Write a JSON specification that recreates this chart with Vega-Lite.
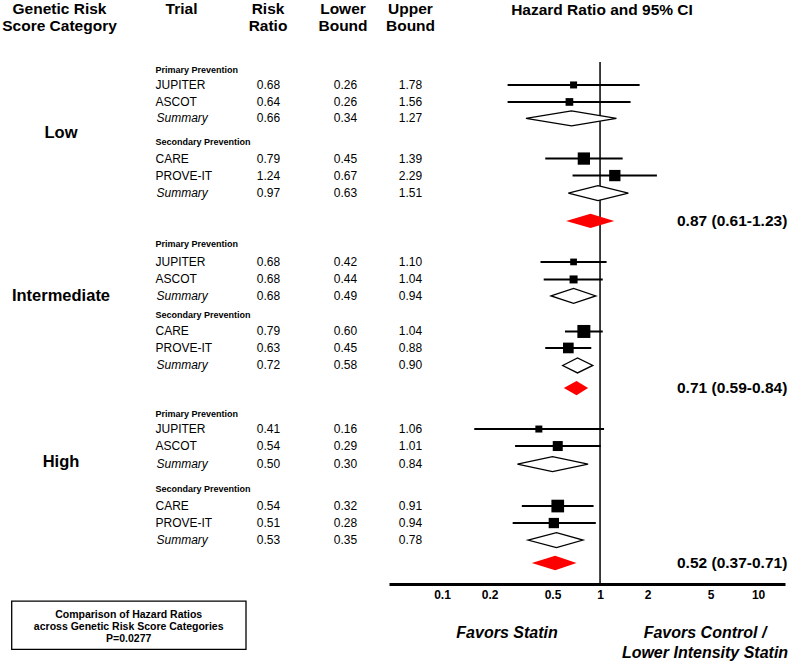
{
  "$schema": "https://vega.github.io/schema/vega-lite/v6.json",
  "width": 800,
  "height": 661,
  "padding": 0,
  "autosize": "none",
  "config": {"view": {"stroke": null}, "font": "Liberation Sans"},
  "datasets": {
    "studies": [
      {"cat": "Low", "row": 0, "kind": "group", "label": "Primary Prevention"},
      {"cat": "Low", "row": 0.88, "kind": "trial", "label": "JUPITER", "rr": 0.68, "lb": 0.26, "ub": 1.78, "weight": 49},
      {"cat": "Low", "row": 1.88, "kind": "trial", "label": "ASCOT", "rr": 0.64, "lb": 0.26, "ub": 1.56, "weight": 59},
      {"cat": "Low", "row": 2.85, "kind": "summary", "label": "Summary", "rr": 0.66, "lb": 0.34, "ub": 1.27},
      {"cat": "Low", "row": 4.21, "kind": "group", "label": "Secondary Prevention"},
      {"cat": "Low", "row": 5.21, "kind": "trial", "label": "CARE", "rr": 0.79, "lb": 0.45, "ub": 1.39, "weight": 151},
      {"cat": "Low", "row": 6.21, "kind": "trial", "label": "PROVE-IT", "rr": 1.24, "lb": 0.67, "ub": 2.29, "weight": 128},
      {"cat": "Low", "row": 7.24, "kind": "summary", "label": "Summary", "rr": 0.97, "lb": 0.63, "ub": 1.51},
      {"cat": "Intermediate", "row": 10.24, "kind": "group", "label": "Primary Prevention"},
      {"cat": "Intermediate", "row": 11.29, "kind": "trial", "label": "JUPITER", "rr": 0.68, "lb": 0.42, "ub": 1.10, "weight": 45},
      {"cat": "Intermediate", "row": 12.32, "kind": "trial", "label": "ASCOT", "rr": 0.68, "lb": 0.44, "ub": 1.04, "weight": 64},
      {"cat": "Intermediate", "row": 13.29, "kind": "summary", "label": "Summary", "rr": 0.68, "lb": 0.49, "ub": 0.94},
      {"cat": "Intermediate", "row": 14.41, "kind": "group", "label": "Secondary Prevention"},
      {"cat": "Intermediate", "row": 15.38, "kind": "trial", "label": "CARE", "rr": 0.79, "lb": 0.60, "ub": 1.04, "weight": 169},
      {"cat": "Intermediate", "row": 16.35, "kind": "trial", "label": "PROVE-IT", "rr": 0.63, "lb": 0.45, "ub": 0.88, "weight": 114},
      {"cat": "Intermediate", "row": 17.38, "kind": "summary", "label": "Summary", "rr": 0.72, "lb": 0.58, "ub": 0.90},
      {"cat": "High", "row": 20.24, "kind": "group", "label": "Primary Prevention"},
      {"cat": "High", "row": 21.12, "kind": "trial", "label": "JUPITER", "rr": 0.41, "lb": 0.16, "ub": 1.06, "weight": 49},
      {"cat": "High", "row": 22.12, "kind": "trial", "label": "ASCOT", "rr": 0.54, "lb": 0.29, "ub": 1.01, "weight": 100},
      {"cat": "High", "row": 23.18, "kind": "summary", "label": "Summary", "rr": 0.50, "lb": 0.30, "ub": 0.84},
      {"cat": "High", "row": 24.65, "kind": "group", "label": "Secondary Prevention"},
      {"cat": "High", "row": 25.65, "kind": "trial", "label": "CARE", "rr": 0.54, "lb": 0.32, "ub": 0.91, "weight": 161},
      {"cat": "High", "row": 26.65, "kind": "trial", "label": "PROVE-IT", "rr": 0.51, "lb": 0.28, "ub": 0.94, "weight": 106},
      {"cat": "High", "row": 27.65, "kind": "summary", "label": "Summary", "rr": 0.53, "lb": 0.35, "ub": 0.78}
    ],
    "overall": [
      {"cat": "Low", "row": 8.88, "hr": 0.87, "lb": 0.61, "ub": 1.23, "label": "0.87 (0.61-1.23)"},
      {"cat": "Intermediate", "row": 18.71, "hr": 0.71, "lb": 0.59, "ub": 0.84, "label": "0.71 (0.59-0.84)"},
      {"cat": "High", "row": 29.0, "hr": 0.52, "lb": 0.37, "ub": 0.71, "label": "0.52 (0.37-0.71)"}
    ],
    "categories": [
      {"cat": "Low", "row": 3.71},
      {"cat": "Intermediate", "row": 13.29},
      {"cat": "High", "row": 23.06}
    ]
  },
  "layer": [
    {
      "layer": [
        {
          "data": {"values": [{}]},
          "mark": {"type": "rule", "color": "black", "strokeWidth": 1.5},
          "encoding": {
            "x": {"datum": 1, "type": "quantitative", "scale": {"type": "log", "domain": [0.0462, 14.8], "range": [389, 785], "nice": false},
                  "axis": {"orient": "bottom", "offset": -77, "values": [0.1, 0.2, 0.5, 1, 2, 5, 10], "format": "~g", "title": null, "grid": false, "ticks": false, "tickSize": 0, "domainColor": "black", "domainWidth": 3, "labelFontSize": 12, "labelFontWeight": "bold", "labelColor": "black", "labelPadding": 5, "labelOverlap": false, "labelFlush": false, "labelBound": false}},
            "y": {"datum": -0.47, "type": "quantitative", "scale": {"domain": [-4.1176, 34.765], "range": [0, 661], "nice": false, "zero": false}, "axis": null},
            "y2": {"datum": 30.24}
          }
        },
        {
          "data": {"name": "studies"},
          "transform": [{"filter": "datum.kind == 'trial'"}],
          "mark": {"type": "rule", "color": "black", "strokeWidth": 2},
          "encoding": {
            "x": {"field": "lb", "type": "quantitative", "scale": {"type": "log", "domain": [0.0462, 14.8], "range": [389, 785], "nice": false}},
            "x2": {"field": "ub"},
            "y": {"field": "row", "type": "quantitative", "scale": {"domain": [-4.1176, 34.765], "range": [0, 661], "nice": false, "zero": false}, "axis": null}
          }
        },
        {
          "data": {"name": "studies"},
          "transform": [{"filter": "datum.kind == 'trial'"}],
          "mark": {"type": "point", "shape": "square", "filled": true, "color": "black", "opacity": 1},
          "encoding": {
            "x": {"field": "rr", "type": "quantitative", "scale": {"type": "log", "domain": [0.0462, 14.8], "range": [389, 785], "nice": false}},
            "y": {"field": "row", "type": "quantitative", "scale": {"domain": [-4.1176, 34.765], "range": [0, 661], "nice": false, "zero": false}, "axis": null},
            "size": {"field": "weight", "type": "quantitative", "scale": {"type": "linear", "domain": [0, 200], "range": [0, 200], "zero": true}, "legend": null}
          }
        },
        {
          "data": {"name": "studies"},
          "transform": [
            {"filter": "datum.kind == 'summary'"},
            {"fold": ["lb", "rr", "ub"], "as": ["pt", "val"]},
            {"calculate": "datum.pt == 'rr' ? datum.row - 0.44 : datum.row", "as": "top"},
            {"calculate": "datum.pt == 'rr' ? datum.row + 0.44 : datum.row", "as": "bottom"}
          ],
          "mark": {"type": "area", "orient": "vertical", "fill": "white", "stroke": "black", "strokeWidth": 1.3, "opacity": 1, "fillOpacity": 1},
          "encoding": {
            "x": {"field": "val", "type": "quantitative", "scale": {"type": "log", "domain": [0.0462, 14.8], "range": [389, 785], "nice": false}},
            "y": {"field": "top", "type": "quantitative", "scale": {"domain": [-4.1176, 34.765], "range": [0, 661], "nice": false, "zero": false}, "axis": null},
            "y2": {"field": "bottom"},
            "detail": {"field": "row", "type": "nominal"}
          }
        },
        {
          "data": {"name": "overall"},
          "transform": [
            {"fold": ["lb", "hr", "ub"], "as": ["pt", "val"]},
            {"calculate": "datum.pt == 'hr' ? datum.row - 0.42 : datum.row", "as": "top"},
            {"calculate": "datum.pt == 'hr' ? datum.row + 0.42 : datum.row", "as": "bottom"}
          ],
          "mark": {"type": "area", "orient": "vertical", "fill": "#ff0000", "strokeWidth": 0, "opacity": 1, "fillOpacity": 1},
          "encoding": {
            "x": {"field": "val", "type": "quantitative", "scale": {"type": "log", "domain": [0.0462, 14.8], "range": [389, 785], "nice": false}},
            "y": {"field": "top", "type": "quantitative", "scale": {"domain": [-4.1176, 34.765], "range": [0, 661], "nice": false, "zero": false}, "axis": null},
            "y2": {"field": "bottom"},
            "detail": {"field": "row", "type": "nominal"}
          }
        }
      ]
    },
    {
      "layer": [
        {
          "data": {"name": "categories"},
          "mark": {"type": "text", "fontSize": 16.5, "fontWeight": "bold", "align": "center", "baseline": "middle", "color": "black"},
          "encoding": {
            "x": {"datum": 61, "type": "quantitative", "scale": {"type": "linear", "domain": [0, 800], "range": [0, 800], "nice": false, "zero": false}, "axis": null},
            "y": {"field": "row", "type": "quantitative", "scale": {"domain": [-4.1176, 34.765], "range": [0, 661], "nice": false, "zero": false}, "axis": null},
            "text": {"field": "cat"}
          }
        },
        {
          "data": {"name": "studies"},
          "transform": [{"filter": "datum.kind == 'group'"}],
          "mark": {"type": "text", "fontSize": 9, "fontWeight": "bold", "align": "left", "baseline": "middle", "color": "black"},
          "encoding": {
            "x": {"datum": 155.5, "type": "quantitative"},
            "y": {"field": "row", "type": "quantitative"},
            "text": {"field": "label"}
          }
        },
        {
          "data": {"name": "studies"},
          "transform": [{"filter": "datum.kind == 'trial'"}],
          "mark": {"type": "text", "fontSize": 12, "align": "left", "baseline": "middle", "color": "black"},
          "encoding": {
            "x": {"datum": 155.5, "type": "quantitative"},
            "y": {"field": "row", "type": "quantitative"},
            "text": {"field": "label"}
          }
        },
        {
          "data": {"name": "studies"},
          "transform": [{"filter": "datum.kind == 'summary'"}],
          "mark": {"type": "text", "fontSize": 12, "fontStyle": "italic", "align": "left", "baseline": "middle", "color": "black"},
          "encoding": {
            "x": {"datum": 156.5, "type": "quantitative"},
            "y": {"field": "row", "type": "quantitative"},
            "text": {"field": "label"}
          }
        },
        {
          "data": {"name": "studies"},
          "transform": [{"filter": "datum.kind != 'group'"}],
          "mark": {"type": "text", "fontSize": 12, "align": "center", "baseline": "middle", "color": "black"},
          "encoding": {
            "x": {"datum": 268.5, "type": "quantitative"},
            "y": {"field": "row", "type": "quantitative"},
            "text": {"field": "rr", "type": "quantitative", "format": ".2f"}
          }
        },
        {
          "data": {"name": "studies"},
          "transform": [{"filter": "datum.kind != 'group'"}],
          "mark": {"type": "text", "fontSize": 12, "align": "center", "baseline": "middle", "color": "black"},
          "encoding": {
            "x": {"datum": 345.5, "type": "quantitative"},
            "y": {"field": "row", "type": "quantitative"},
            "text": {"field": "lb", "type": "quantitative", "format": ".2f"}
          }
        },
        {
          "data": {"name": "studies"},
          "transform": [{"filter": "datum.kind != 'group'"}],
          "mark": {"type": "text", "fontSize": 12, "align": "center", "baseline": "middle", "color": "black"},
          "encoding": {
            "x": {"datum": 410.5, "type": "quantitative"},
            "y": {"field": "row", "type": "quantitative"},
            "text": {"field": "ub", "type": "quantitative", "format": ".2f"}
          }
        },
        {
          "data": {"name": "overall"},
          "mark": {"type": "text", "fontSize": 15.5, "fontWeight": "bold", "align": "left", "baseline": "middle", "color": "black"},
          "encoding": {
            "x": {"datum": 677, "type": "quantitative"},
            "y": {"field": "row", "type": "quantitative"},
            "text": {"field": "label"}
          }
        },
        {
          "data": {"values": [{}]},
          "mark": {"type": "text", "fontSize": 15.5, "fontWeight": "bold", "align": "center", "baseline": "middle", "lineHeight": 17, "color": "black"},
          "encoding": {
            "x": {"datum": 59.5, "type": "quantitative"},
            "y": {"datum": -3.59, "type": "quantitative"},
            "text": {"value": ["Genetic Risk", "Score Category"]}
          }
        },
        {
          "data": {"values": [{}]},
          "mark": {"type": "text", "fontSize": 15.5, "fontWeight": "bold", "align": "center", "baseline": "middle", "color": "black"},
          "encoding": {
            "x": {"datum": 181.5, "type": "quantitative"},
            "y": {"datum": -3.59, "type": "quantitative"},
            "text": {"value": "Trial"}
          }
        },
        {
          "data": {"values": [{}]},
          "mark": {"type": "text", "fontSize": 15.5, "fontWeight": "bold", "align": "center", "baseline": "middle", "lineHeight": 17, "color": "black"},
          "encoding": {
            "x": {"datum": 268, "type": "quantitative"},
            "y": {"datum": -3.59, "type": "quantitative"},
            "text": {"value": ["Risk", "Ratio"]}
          }
        },
        {
          "data": {"values": [{}]},
          "mark": {"type": "text", "fontSize": 15.5, "fontWeight": "bold", "align": "center", "baseline": "middle", "lineHeight": 17, "color": "black"},
          "encoding": {
            "x": {"datum": 343, "type": "quantitative"},
            "y": {"datum": -3.59, "type": "quantitative"},
            "text": {"value": ["Lower", "Bound"]}
          }
        },
        {
          "data": {"values": [{}]},
          "mark": {"type": "text", "fontSize": 15.5, "fontWeight": "bold", "align": "center", "baseline": "middle", "lineHeight": 17, "color": "black"},
          "encoding": {
            "x": {"datum": 410.5, "type": "quantitative"},
            "y": {"datum": -3.59, "type": "quantitative"},
            "text": {"value": ["Upper", "Bound"]}
          }
        },
        {
          "data": {"values": [{}]},
          "mark": {"type": "text", "fontSize": 15.5, "fontWeight": "bold", "align": "center", "baseline": "middle", "color": "black"},
          "encoding": {
            "x": {"datum": 602, "type": "quantitative"},
            "y": {"datum": -3.5, "type": "quantitative"},
            "text": {"value": "Hazard Ratio and 95% CI"}
          }
        },
        {
          "data": {"values": [{}]},
          "mark": {"type": "text", "fontSize": 16, "fontWeight": "bold", "fontStyle": "italic", "align": "center", "baseline": "middle", "color": "black"},
          "encoding": {
            "x": {"datum": 507, "type": "quantitative"},
            "y": {"datum": 33.09, "type": "quantitative"},
            "text": {"value": "Favors Statin"}
          }
        },
        {
          "data": {"values": [{}]},
          "mark": {"type": "text", "fontSize": 16, "fontWeight": "bold", "fontStyle": "italic", "align": "center", "baseline": "middle", "lineHeight": 20, "color": "black"},
          "encoding": {
            "x": {"datum": 705, "type": "quantitative"},
            "y": {"datum": 33.09, "type": "quantitative"},
            "text": {"value": ["Favors Control /", "Lower Intensity Statin"]}
          }
        },
        {
          "data": {"values": [{}]},
          "mark": {"type": "rect", "fill": "white", "stroke": "black", "strokeWidth": 1.3},
          "encoding": {
            "x": {"datum": 11.7, "type": "quantitative"},
            "x2": {"datum": 246},
            "y": {"datum": 31.24, "type": "quantitative"},
            "y2": {"datum": 34.08}
          }
        },
        {
          "data": {"values": [{}]},
          "mark": {"type": "text", "fontSize": 10.5, "fontWeight": "bold", "align": "center", "baseline": "middle", "lineHeight": 11.8, "color": "black"},
          "encoding": {
            "x": {"datum": 128.7, "type": "quantitative"},
            "y": {"datum": 32.06, "type": "quantitative"},
            "text": {"value": ["Comparison of Hazard Ratios", "across Genetic Risk Score Categories", "P=0.0277"]}
          }
        }
      ]
    }
  ],
  "resolve": {"scale": {"x": "independent"}, "axis": {"x": "independent"}}
}
